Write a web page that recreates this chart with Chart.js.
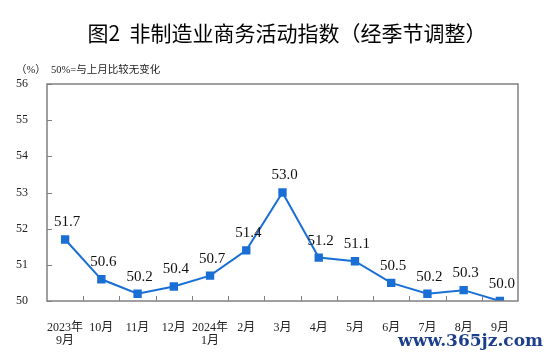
<!DOCTYPE html>
<html>
<head>
<meta charset="utf-8">
<script src="https://cdn.jsdelivr.net/npm/chart.js@4.4.0/dist/chart.umd.min.js"></script>
<style>
  html, body { margin: 0; padding: 0; background: #fff; }
  #wrap { width: 544px; height: 353px; }
</style>
</head>
<body>
<div id="wrap"><canvas id="chart" width="544" height="353"></canvas></div>
<script>
// data
const months = [['2023年', '9月'], '10月', '11月', '12月', ['2024年', '1月'], '2月', '3月', '4月', '5月', '6月', '7月', '8月', '9月'];
const pmiValues = [51.7, 50.6, 50.2, 50.4, 50.7, 51.4, 53.0, 51.2, 51.1, 50.5, 50.2, 50.3, 50.0];
const yTicks = [50, 51, 52, 53, 54, 55, 56];

const titleText = '图2  非制造业商务活动指数（经季节调整）';
const unitText = '（%）  50%=与上月比较无变化';
const markText = 'www.365jz.com';

const serif = '"Liberation Serif", "Times New Roman", "Noto Sans CJK SC", serif';
const blue = '#1a6fd6';

// frame, inner ticks, value labels, titles
const decorations = {
  id: 'decorations',
  afterDraw(chart) {
    const ctx = chart.ctx;
    const area = chart.chartArea;
    const x = chart.scales.x;
    const y = chart.scales.y;
    ctx.save();

    // frame
    ctx.strokeStyle = '#808080';
    ctx.lineWidth = 1.5;
    ctx.strokeRect(area.left, area.top, area.right - area.left, area.bottom - area.top);

    // y ticks pointing inwards
    ctx.lineWidth = 1;
    ctx.beginPath();
    yTicks.forEach(v => {
      const py = Math.round(y.getPixelForValue(v)) + 0.5;
      ctx.moveTo(area.left, py);
      ctx.lineTo(area.left + 5, py);
    });
    // x ticks between categories
    for (let i = 1; i < months.length; i++) {
      const px = Math.round((x.getPixelForValue(i - 1) + x.getPixelForValue(i)) / 2) + 0.5;
      ctx.moveTo(px, area.bottom);
      ctx.lineTo(px, area.bottom - 5);
    }
    ctx.stroke();

    // value labels
    const meta = chart.getDatasetMeta(0);
    ctx.fillStyle = '#111';
    ctx.font = '15px ' + serif;
    ctx.textAlign = 'center';
    ctx.textBaseline = 'middle';
    meta.data.forEach((pt, i) => {
      ctx.fillText(pmiValues[i].toFixed(1), pt.x + 2, pt.y - 17);
    });

    // title
    ctx.fillStyle = '#000';
    ctx.font = '21px "Noto Sans CJK SC", sans-serif';
    ctx.fillText(titleText, 287, 33);

    // unit note
    ctx.textAlign = 'left';
    ctx.font = '10.5px ' + serif;
    ctx.fillStyle = '#222';
    ctx.fillText(unitText, 16, 70);

    // watermark
    ctx.font = 'bold 17px "DejaVu Serif", serif';
    ctx.textAlign = 'right';
    ctx.lineWidth = 3;
    ctx.strokeStyle = '#ffffff';
    ctx.strokeText(markText, 543, 342);
    ctx.fillStyle = '#1c3f8c';
    ctx.fillText(markText, 543, 342);

    ctx.restore();
  }
};

new Chart(document.getElementById('chart'), {
  type: 'line',
  data: {
    labels: months,
    datasets: [{
      data: pmiValues,
      borderColor: blue,
      backgroundColor: blue,
      borderWidth: 2,
      pointStyle: 'rect',
      pointRadius: 4.5,
      pointHoverRadius: 4.5,
      tension: 0
    }]
  },
  options: {
    responsive: false,
    animation: false,
    devicePixelRatio: 1,
    layout: { padding: { top: 84, right: 26, bottom: 0, left: 0 } },
    plugins: {
      legend: { display: false },
      tooltip: { enabled: false }
    },
    scales: {
      x: {
        offset: true,
        grid: { display: false },
        border: { display: false },
        ticks: {
          padding: 12,
          color: '#222',
          maxRotation: 0,
          autoSkip: false,
          font: { family: serif, size: 12, lineHeight: 1.12 }
        },
        afterFit(scale) { scale.height = 52; }
      },
      y: {
        min: 50,
        max: 56,
        grid: { display: false },
        border: { display: false },
        ticks: {
          stepSize: 1,
          padding: 11,
          color: '#222',
          font: { family: serif, size: 12 }
        },
        afterFit(scale) { scale.width = 47; }
      }
    }
  },
  plugins: [decorations]
});
</script>
</body>
</html>
